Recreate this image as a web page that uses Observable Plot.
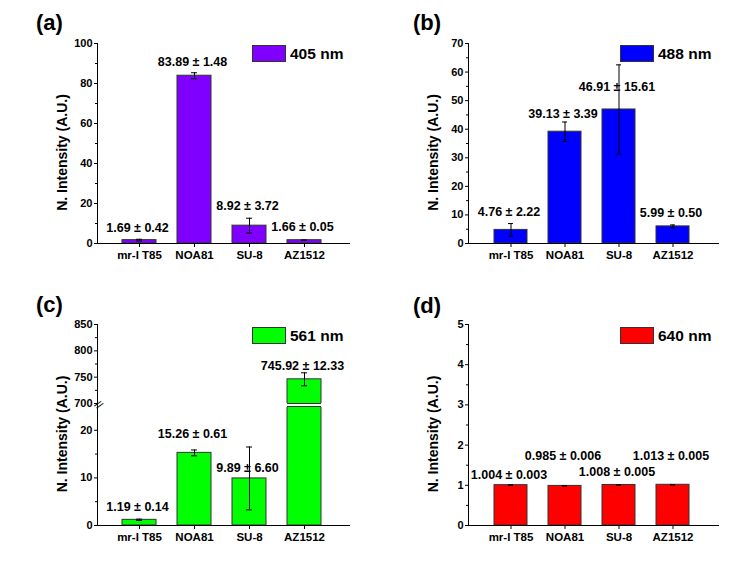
<!DOCTYPE html>
<html><head><meta charset="utf-8">
<script src="https://cdn.jsdelivr.net/npm/d3@7"></script>
<script src="https://cdn.jsdelivr.net/npm/@observablehq/plot@0.6"></script>
<style>
body{margin:0;background:#fff;font-family:"Liberation Sans",Arial,sans-serif;}
#root{position:relative;width:743px;height:568px;overflow:hidden;background:#fff}
.panel{position:absolute}
.plabel{position:absolute;font-size:22px;font-weight:bold;line-height:1;color:#000}
.legend{position:absolute;display:flex;align-items:center;font-size:15.5px;font-weight:bold;line-height:17px;color:#000}
.sw{width:32px;height:15px;border:1px solid #333;margin-right:4px}
</style></head>
<body><div id="root"></div>
<script>
// ---- data ----
const categories = ["mr-I T85", "NOA81", "SU-8", "AZ1512"];
const values405 = [1.69, 83.89, 8.92, 1.66];
const errors405 = [0.42, 1.48, 3.72, 0.05];
const values488 = [4.76, 39.13, 46.91, 5.99];
const errors488 = [2.22, 3.39, 15.61, 0.50];
const values561 = [1.19, 15.26, 9.89, 745.92];
const errors561 = [0.14, 0.61, 6.60, 12.33];
const values640 = [1.004, 0.985, 1.008, 1.013];
const errors640 = [0.003, 0.006, 0.005, 0.005];
const ticksA = [0, 20, 40, 60, 80, 100];
const ticksB = [0, 10, 20, 30, 40, 50, 60, 70];
const ticksC = [0, 10, 20, 700, 750, 800, 850];
const ticksD = [0, 1, 2, 3, 4, 5];
const minorA = [10, 30, 50, 70, 90];
const minorB = [5, 15, 25, 35, 45, 55, 65];
const minorC = [5, 15, 725, 775, 825];
const minorD = [0.5, 1.5, 2.5, 3.5, 4.5];
const breakLow = 25, breakHigh = 700;
const panelLabels = ["(a)", "(b)", "(c)", "(d)"];
const legendLabels = ["405 nm", "488 nm", "561 nm", "640 nm"];
const yTitle = "N. Intensity (A.U.)";

// ---- layout / style (not data) ----
const colors = ["#7f00ff", "#0000ff", "#00ff00", "#ff0000"];
const labelOffsets = [
  [11, 11, 12, 13.5],
  [12, 8.5, -22, 11.5],
  [12, 15.5, -21, 7],
  [10, 29.5, 13, 28.5]
];
const font = "'Liberation Sans', Arial, sans-serif";

const panels = [
  {vals: values405, errs: errors405, dec: 2, ticks: ticksA, minor: minorA,
   y: {domain: [0, 100]}, left: 0, top: 0, width: 372, mL: 97, mR: 22, mT: 43, mB: 41,
   legend: [252, 45], plabel: [36, 12]},
  {vals: values488, errs: errors488, dec: 2, ticks: ticksB, minor: minorB,
   y: {domain: [0, 70]}, left: 372, top: 0, width: 371, mL: 96, mR: 24, mT: 43, mB: 41,
   legend: [248, 45], plabel: [41, 12]},
  {vals: values561, errs: errors561, dec: 2, ticks: ticksC, minor: minorC,
   y: {domain: [0, breakLow, breakHigh, 850], range: [241, 122, 119, 40]}, broken: true,
   left: 0, top: 284, width: 372, mL: 97, mR: 22, mT: 40, mB: 43,
   legend: [252, 43], plabel: [36, 10]},
  {vals: values640, errs: errors640, dec: 3, ticks: ticksD, minor: minorD,
   y: {domain: [0, 5]}, left: 372, top: 284, width: 371, mL: 96, mR: 24, mT: 40, mB: 43,
   legend: [248, 43], plabel: [41, 11]}
];

const root = document.getElementById("root");

panels.forEach((p, k) => {
  const rows = categories.map((c, i) => ({
    cat: c, v: p.vals[i], e: p.errs[i],
    lo: p.vals[i] - p.errs[i], hi: p.vals[i] + p.errs[i],
    text: `${p.vals[i].toFixed(p.dec)} ± ${p.errs[i].toFixed(p.dec)}`,
    off: labelOffsets[k][i]
  }));
  const marks = [
    Plot.barY(rows, {x: "cat", y: "v", fill: colors[k], stroke: "#333", strokeWidth: 1})
  ];
  if (p.broken) {
    const mid = (breakLow + breakHigh) / 2;
    const tall = rows.filter(r => r.v > breakHigh);
    marks.push(Plot.tickY(tall, {x: "cat", y: () => mid, stroke: "#fff", strokeWidth: 4, insetLeft: -1, insetRight: -1}));
    marks.push(Plot.tickY(tall, {x: "cat", y: () => breakLow, stroke: "#333", strokeWidth: 1}));
    marks.push(Plot.tickY(tall, {x: "cat", y: () => breakHigh, stroke: "#333", strokeWidth: 1}));
  }
  marks.push(
    Plot.ruleX(rows, {x: "cat", y1: "lo", y2: "hi", stroke: "#000", strokeWidth: 1}),
    Plot.tickY(rows, {x: "cat", y: "lo", stroke: "#000", strokeWidth: 1, insetLeft: 14, insetRight: 14}),
    Plot.tickY(rows, {x: "cat", y: "hi", stroke: "#000", strokeWidth: 1, insetLeft: 14, insetRight: 14}),
    Plot.ruleY([0], {stroke: "#000", strokeWidth: 1}),
    Plot.frame({anchor: "left", stroke: "#000", strokeWidth: 1}),
    Plot.axisY({ticks: p.ticks, tickSize: 3, tickPadding: 2, label: null, fontSize: 11, fontWeight: "bold", tickFormat: d => String(d)}),
    Plot.axisY({ticks: p.minor, tickSize: 2, tickFormat: () => "", label: null}),
    Plot.axisX({tickSize: 4, tickPadding: 3, label: null, fontSize: 11.5, fontWeight: "bold"})
  );
  if (p.broken) {
    const mid = (breakLow + breakHigh) / 2;
    marks.push(Plot.text(["//"], {frameAnchor: "left", textAnchor: "middle", y: [mid], rotate: 40, fontSize: 11, fontWeight: "normal", dx: 1, dy: 0}));
  }
  rows.forEach(r => {
    marks.push(Plot.text([r], {x: "cat", y: "hi", text: "text", dy: -r.off, dx: -2, fontSize: 12.5, fontWeight: "bold", fill: "#000"}));
  });
  marks.push(Plot.text([yTitle], {frameAnchor: "left", textAnchor: "middle", rotate: -90, dx: -35, dy: 9, fontSize: 14, fontWeight: "bold", fill: "#000"}));

  const chart = Plot.plot({
    width: p.width, height: 284,
    marginLeft: p.mL, marginRight: p.mR, marginTop: p.mT, marginBottom: p.mB,
    style: {fontFamily: font, fontWeight: "bold", fontSize: "10px", color: "#000", background: "transparent", overflow: "visible"},
    x: {type: "band", domain: categories, paddingInner: 0.385, paddingOuter: 0.48, align: 0.46},
    y: Object.assign({type: "linear"}, p.y),
    marks
  });
  const wrap = document.createElement("div");
  wrap.className = "panel";
  wrap.style.left = p.left + "px";
  wrap.style.top = p.top + "px";
  wrap.appendChild(chart);

  const pl = document.createElement("div");
  pl.className = "plabel";
  pl.style.left = p.plabel[0] + "px";
  pl.style.top = p.plabel[1] + "px";
  pl.textContent = panelLabels[k];
  wrap.appendChild(pl);

  const lg = document.createElement("div");
  lg.className = "legend";
  lg.style.left = p.legend[0] + "px";
  lg.style.top = p.legend[1] + "px";
  const sw = document.createElement("div");
  sw.className = "sw";
  sw.style.background = colors[k];
  const lt = document.createElement("span");
  lt.textContent = legendLabels[k];
  lg.appendChild(sw); lg.appendChild(lt);
  wrap.appendChild(lg);

  root.appendChild(wrap);
});
</script>
</body></html>
